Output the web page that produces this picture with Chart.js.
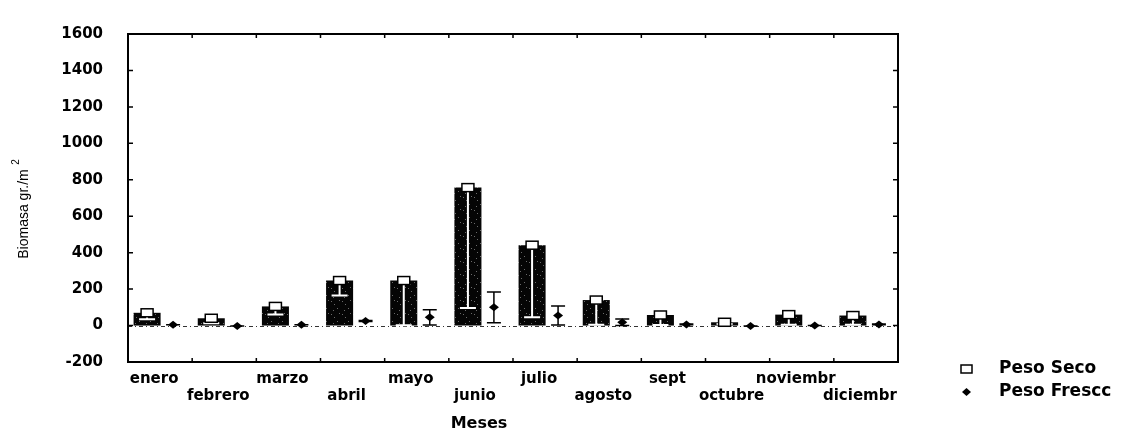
<!DOCTYPE html>
<html>
<head>
<meta charset="utf-8">
<script src="https://cdn.jsdelivr.net/npm/chart.js@4"></script>
<style>
  html, body { margin: 0; padding: 0; background: #fff; }
  #wrap { width: 1121px; height: 433px; }
</style>
</head>
<body>
<div id="wrap"><canvas id="biomasa"></canvas></div>
<script>
// months, as printed under the axis
const meses = ["enero", "febrero", "marzo", "abril", "mayo", "junio", "julio", "agosto", "sept", "octubre", "noviembr", "diciembr"];
// dry weight means and their error
const pesoSeco = [70, 40, 105, 247, 247, 757, 441, 140, 58, 18, 60, 55];
const pesoSecoErr = [35, 28, 45, 82, 245, 660, 396, 135, 55, 10, 55, 50];
// fresh weight means and their error
const pesoFresco = [5, -3, 5, 25, 45, 100, 55, 18, 6, -2, 0, 6];
const pesoFrescoErr = [0, 0, 0, 3, 42, 84, 52, 18, 2, 0, 0, 2];
const yTicks = [-200, 0, 200, 400, 600, 800, 1000, 1200, 1400, 1600];
const leyenda = ["Peso Seco", "Peso Frescc"];

const BOLD = "'DejaVu Sans', sans-serif";

// dark speckled fill for the bars
function stipple() {
    const c = document.createElement("canvas");
    c.width = 11; c.height = 13;
    const g = c.getContext("2d");
    g.fillStyle = "#050505";
    g.fillRect(0, 0, 11, 13);
    g.fillStyle = "#6a6a6a";
    [[1, 2], [7, 9], [4, 5], [9, 1], [3, 11]].forEach(p => g.fillRect(p[0], p[1], 1, 1));
    return g.createPattern(c, "repeat");
}

function diamond(ctx, x, y, w, h) {
    ctx.beginPath();
    ctx.moveTo(x, y - h); ctx.lineTo(x + w, y); ctx.lineTo(x, y + h); ctx.lineTo(x - w, y);
    ctx.closePath();
    ctx.fill();
}

const marcas = {
    id: "marcas",
    beforeDatasetsDraw(chart) {
        const { ctx, chartArea: a, scales: { y } } = chart;
        // dash-dot line at zero
        const y0 = Math.round(y.getPixelForValue(0)) + 0.5;
        ctx.save();
        ctx.strokeStyle = "#333";
        ctx.lineWidth = 1;
        ctx.setLineDash([4, 3, 1, 3]);
        ctx.beginPath(); ctx.moveTo(a.left, y0); ctx.lineTo(a.right, y0); ctx.stroke();
        ctx.restore();
    },
    afterDatasetsDraw(chart) {
        const { ctx, scales: { y } } = chart;
        const seco = chart.getDatasetMeta(0).data;
        const fresco = chart.getDatasetMeta(1).data;
        ctx.save();
        // Peso Seco: white whiskers + open box at the mean
        seco.forEach((bar, i) => {
            const x = bar.x;
            const hi = y.getPixelForValue(pesoSeco[i] + pesoSecoErr[i]);
            const lo = y.getPixelForValue(pesoSeco[i] - pesoSecoErr[i]);
            ctx.strokeStyle = "#fff"; ctx.lineWidth = 2;
            ctx.beginPath();
            ctx.moveTo(x, hi); ctx.lineTo(x, lo);
            ctx.moveTo(x - 8, hi); ctx.lineTo(x + 8, hi);
            ctx.moveTo(x - 8, lo); ctx.lineTo(x + 8, lo);
            ctx.stroke();
            ctx.fillStyle = "#fff"; ctx.strokeStyle = "#000"; ctx.lineWidth = 1.5;
            ctx.fillRect(x - 6, bar.y - 4, 12, 8);
            ctx.strokeRect(x - 6, bar.y - 4, 12, 8);
        });
        // Peso Fresco: black whiskers + diamond
        fresco.forEach((pt, i) => {
            const x = pt.x;
            const m = y.getPixelForValue(pesoFresco[i]);
            const hi = y.getPixelForValue(pesoFresco[i] + pesoFrescoErr[i]);
            const lo = y.getPixelForValue(pesoFresco[i] - pesoFrescoErr[i]);
            ctx.strokeStyle = "#000"; ctx.lineWidth = 1.5;
            ctx.beginPath();
            ctx.moveTo(x, hi); ctx.lineTo(x, lo);
            ctx.moveTo(x - 7, hi); ctx.lineTo(x + 7, hi);
            ctx.moveTo(x - 7, lo); ctx.lineTo(x + 7, lo);
            ctx.stroke();
            ctx.fillStyle = "#000";
            diamond(ctx, x, m, 5, 4);
        });
        ctx.restore();
    },
    afterDraw(chart) {
        const { ctx, chartArea: a, scales: { x, y } } = chart;
        ctx.save();
        // frame
        ctx.strokeStyle = "#000"; ctx.lineWidth = 2;
        ctx.strokeRect(a.left, a.top, a.right - a.left, a.bottom - a.top);
        // inward ticks
        ctx.lineWidth = 1.5;
        ctx.beginPath();
        y.ticks.forEach(t => {
            const py = y.getPixelForValue(t.value);
            ctx.moveTo(a.left, py); ctx.lineTo(a.left + 5, py);
            ctx.moveTo(a.right, py); ctx.lineTo(a.right - 5, py);
        });
        const step = (a.right - a.left) / meses.length;
        for (let i = 0; i <= meses.length; i++) {
            const px = a.left + i * step;
            ctx.moveTo(px, a.top); ctx.lineTo(px, a.top + 4);
            ctx.moveTo(px, a.bottom); ctx.lineTo(px, a.bottom - 4);
        }
        ctx.stroke();

        // axis titles
        ctx.fillStyle = "#000";
        ctx.font = "bold 16px " + BOLD;
        ctx.textAlign = "center"; ctx.textBaseline = "middle";
        ctx.fillText("Meses", 479, 424);

        ctx.translate(24, 214);
        ctx.rotate(-Math.PI / 2);
        ctx.font = "14px 'Liberation Sans', Arial, sans-serif";
        ctx.fillText("Biomasa gr./m", 0, 0);
        ctx.font = "10px 'Liberation Sans', Arial, sans-serif";
        ctx.fillText("2", 52, -8);
        ctx.setTransform(1, 0, 0, 1, 0, 0);

        // legend
        ctx.fillStyle = "#fff"; ctx.strokeStyle = "#000"; ctx.lineWidth = 1.5;
        ctx.fillRect(961, 365, 11, 8);
        ctx.strokeRect(961, 365, 11, 8);
        ctx.fillStyle = "#000";
        diamond(ctx, 966.5, 392, 4.5, 4);
        ctx.font = "bold 17px " + BOLD;
        ctx.textAlign = "left";
        ctx.fillText(leyenda[0], 999, 369);
        ctx.fillText(leyenda[1], 999, 392);
        ctx.restore();
    }
};

const ctx = document.getElementById("biomasa").getContext("2d");

const myChart = new Chart(ctx, {
    type: "bar",
    data: {
        labels: meses,
        datasets: [
            {
                label: leyenda[0],
                data: pesoSeco,
                backgroundColor: stipple(),
                borderWidth: 0,
                categoryPercentage: 0.81,
                barPercentage: 1.04,
            },
            {
                label: leyenda[1],
                data: pesoFresco,
                backgroundColor: "rgba(0,0,0,0)",
                borderWidth: 0,
                categoryPercentage: 0.81,
                barPercentage: 1.04,
            },
        ],
    },
    options: {
        responsive: true,
        maintainAspectRatio: false,
        animation: false,
        layout: { padding: { left: 0, right: 223, top: 16, bottom: 0 } },
        plugins: {
            legend: { display: false },
            tooltip: { enabled: false },
        },
        scales: {
            x: {
                grid: { display: false, drawTicks: false },
                border: { display: false },
                afterFit: s => { s.height = 71; },
                ticks: {
                    autoSkip: false,
                    maxRotation: 0,
                    minRotation: 0,
                    padding: 8,
                    labelOffset: -6,
                    color: "#000",
                    font: { family: BOLD, size: 15, weight: "bold", lineHeight: 1.15 },
                    callback: (v, i) => (i % 2 ? ["", meses[i]] : meses[i]),
                },
            },
            y: {
                min: -200,
                max: 1600,
                grid: { display: false, drawTicks: false },
                border: { display: false },
                afterFit: s => { s.width = 128; },
                afterBuildTicks: s => { s.ticks = yTicks.map(v => ({ value: v })); },
                ticks: {
                    padding: 25,
                    color: "#000",
                    font: { family: BOLD, size: 15, weight: "bold" },
                    callback: v => String(v),
                },
            },
        },
    },
    plugins: [marcas],
});
</script>
</body>
</html>
